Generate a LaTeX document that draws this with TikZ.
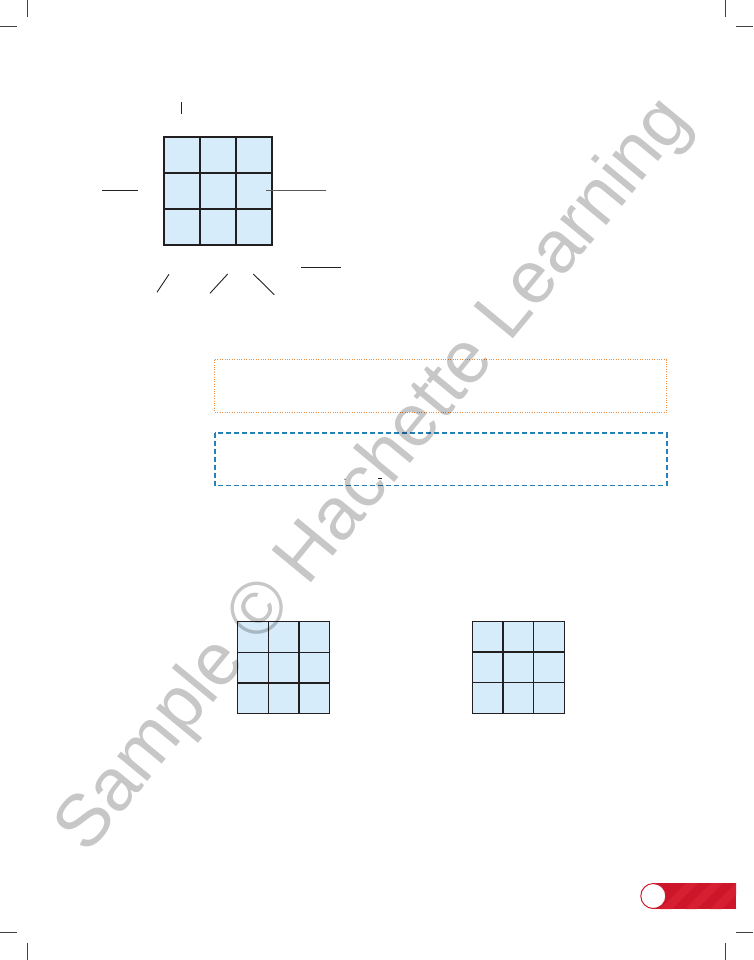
\documentclass[tikz,border=0pt]{standalone}
\usepackage{fontspec}
\setmainfont{Liberation Sans}
\definecolor{cellblue}{RGB}{214,236,250}
\definecolor{gridink}{RGB}{35,31,32}
\definecolor{boxorange}{RGB}{238,140,64}
\definecolor{boxblue}{RGB}{36,128,182}
\definecolor{tabred}{RGB}{206,22,42}
\definecolor{tabstripe}{RGB}{214,32,50}
\newcommand\cellgrid[3]{%
  \fill[cellblue] (#1,#2) rectangle ++({3*#3},{3*#3});
  \foreach \k in {0,1,2,3}{
    \draw[gridstroke] ({#1+\k*#3},#2) -- ++(0,{3*#3});
    \draw[gridstroke] (#1,{#2+\k*#3}) -- ++({3*#3},0);
  }}
\begin{document}
\begin{tikzpicture}[x=1pt,y=-1pt,
  gridstroke/.style={draw=gridink,line width=1.1pt,line cap=rect},
  labelline/.style={draw=gridink,line width=0.9pt},
  cropmark/.style={draw=black!75,line width=1pt},
  orangebox/.style={draw=boxorange,line width=1pt,dash pattern=on 1pt off 1.4pt},
  bluebox/.style={draw=boxblue,line width=1.6pt,dash pattern=on 5pt off 3pt}]
\useasboundingbox (0,0) rectangle (753,960);
% crop marks
\draw[cropmark] (27,0) -- (27,17);
\draw[cropmark] (0,27) -- (17,27);
\draw[cropmark] (725.5,0) -- (725.5,17);
\draw[cropmark] (736,27) -- (753,27);
\draw[cropmark] (0,932.5) -- (17,932.5);
\draw[cropmark] (27,942.5) -- (27,960);
\draw[cropmark] (736,932.5) -- (753,932.5);
\draw[cropmark] (725.5,942.5) -- (725.5,960);
% top grid
\cellgrid{164}{137}{36}
% label lines
\coordinate (t1) at (181.7,102.5); \coordinate (t2) at (181.7,114);
\draw[labelline] (t1) -- (t2);
\coordinate (l1) at (102,190.7); \coordinate (l2) at (138,190.7);
\draw[labelline] (l1) -- (l2);
\coordinate (r1) at (266,190.7); \coordinate (r2) at (326,190.7);
\draw[labelline,draw=black!65] (r1) -- (r2);
\coordinate (br1) at (301,267); \coordinate (br2) at (341,267);
\draw[labelline] (br1) -- (br2);
\coordinate (d1a) at (169,274.3); \coordinate (d1b) at (157,292.3);
\draw[labelline] (d1a) -- (d1b);
\coordinate (d2a) at (227.7,274); \coordinate (d2b) at (210,293.3);
\draw[labelline] (d2a) -- (d2b);
\coordinate (d3a) at (253.3,274); \coordinate (d3b) at (274.3,294.7);
\draw[labelline] (d3a) -- (d3b);
% boxes
\draw[orangebox] (214.7,359.7) rectangle (666.7,412.3);
\draw[bluebox] (214.7,433) rectangle (666.7,485.3);
\coordinate (m1) at (345,479.3); \coordinate (m2) at (378,478); \coordinate (m3) at (382,478);
\fill[gridink] (m1) circle (0.6);
\draw[gridink,line width=0.8pt] (m2) -- (m3);
% bottom grids
\cellgrid{237.3}{621.3}{30.85}
\cellgrid{472.3}{621.3}{30.7}
% page tab
\begin{scope}
  \clip (653,883) rectangle (736,909);
  \fill[tabred] (653,883) rectangle (736,909);
  \foreach \s in {660,685,710,735}{
    \fill[tabstripe] (\s,909) -- ++(12,0) -- ++(26,-26) -- ++(-12,0) -- cycle;
  }
\end{scope}
\node[circle,draw=tabred,line width=1pt,fill=white,minimum size=25pt,inner sep=0pt] (pagedot) at (653.3,896) {};
% watermark
\node[rotate=50.5,text=black,opacity=0.22,font=\fontsize{74pt}{74pt}\selectfont,inner sep=0pt] (wm) at (375,476) {Sample © Hachette Learning};
\end{tikzpicture}
\end{document}
